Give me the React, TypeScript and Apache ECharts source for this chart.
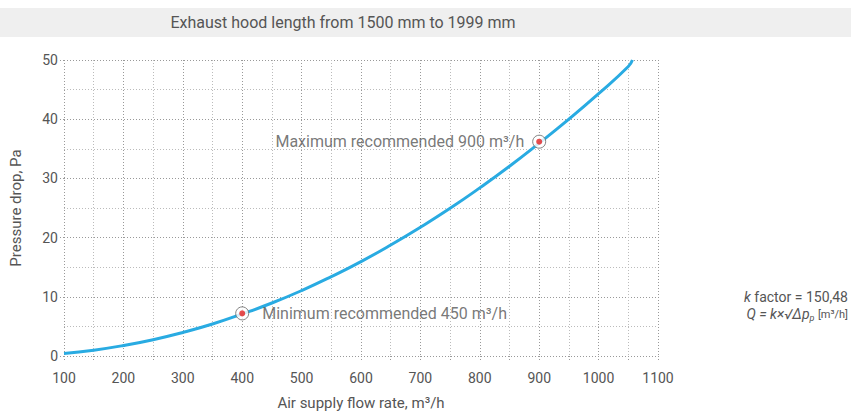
import React, { useEffect, useRef } from "react";
import * as echarts from "echarts";

const flowRates = [100, 150, 200, 250, 300, 350, 400, 450, 500, 550, 600, 650, 700, 750, 800, 850, 900, 950, 1000, 1050, 1057];
const pressureDrops = [0.44, 0.99, 1.77, 2.76, 3.98, 5.41, 7.1, 8.95, 11.05, 13.4, 15.95, 18.75, 21.75, 24.95, 28.4, 32.05, 35.95, 40.0, 44.3, 48.9, 50];
const markerFlows = [400, 900];
const markerDrops = [7.2, 36.2];
const markerLabels = ["Minimum recommended 450 m³/h", "Maximum recommended 900 m³/h"];
const titleText = "Exhaust hood length from 1500 mm to 1999 mm";
const xName = "Air supply flow rate, m³/h";
const yName = "Pressure drop, Pa";

const FONT = "Roboto, 'Noto Sans', sans-serif";
const TXT = "#555";

export default function App() {
  const ref = useRef<HTMLDivElement>(null);
  useEffect(() => {
    if (!ref.current) return;
    document.body.style.margin = "0";
    const chart = echarts.init(ref.current, null, { renderer: "svg" });
    const curve = flowRates.map((x, i) => [x, pressureDrops[i]]);
    const markers = markerFlows.map((x, i) => ({
      value: [x, markerDrops[i]],
      label: {
        show: true,
        formatter: markerLabels[i],
        position: i === 0 ? "right" : "left",
        distance: i === 0 ? 13 : 8,
        fontSize: 16,
        color: TXT,
        fontFamily: FONT,
      },
    }));
    const dotted = { type: [1, 2] as any, color: "#999", width: 1 };
    chart.setOption({
      animation: false,
      textStyle: { fontFamily: FONT },
      graphic: [
        {
          type: "rect",
          shape: { x: 0, y: 8, width: 851, height: 29 },
          style: { fill: "#efefef" },
          silent: true,
        },
        {
          type: "text",
          x: 343,
          y: 22,
          style: { text: titleText, fontSize: 16, fill: TXT, fontFamily: FONT, align: "center", verticalAlign: "middle" },
        },
        {
          type: "text",
          x: 848,
          y: 297,
          style: {
            text: "{i|k} factor = 150,48",
            align: "right",
            verticalAlign: "middle",
            fill: TXT,
            fontSize: 14,
            fontFamily: FONT,
            rich: { i: { fontStyle: "italic", fontSize: 14, fill: TXT, fontFamily: FONT } },
          },
        },
        {
          type: "text",
          x: 848,
          y: 314,
          style: {
            text: "{i|Q = k×√Δp}{s|p} {b|[m³/h]}",
            align: "right",
            verticalAlign: "middle",
            fill: TXT,
            fontSize: 14,
            fontFamily: FONT,
            rich: {
              i: { fontStyle: "italic", fontSize: 14, fill: TXT, fontFamily: FONT },
              s: { fontStyle: "italic", fontSize: 9, fill: TXT, fontFamily: FONT, padding: [8, 0, 0, 0] },
              b: { fontSize: 11, fill: TXT, fontFamily: FONT },
            },
          },
        },
      ],
      grid: { left: 62, top: 60, width: 596, height: 296, containLabel: false },
      xAxis: {
        type: "value",
        min: 100,
        max: 1100,
        interval: 100,
        name: xName,
        nameLocation: "middle",
        nameGap: 39,
        nameTextStyle: { fontSize: 15, color: TXT, fontFamily: FONT },
        axisLine: { show: false },
        axisTick: { show: true, length: 4, lineStyle: dotted },
        minorTick: { show: true, splitNumber: 2, length: 4, lineStyle: dotted },
        axisLabel: { fontSize: 14, color: TXT, margin: 15, fontFamily: FONT, formatter: (v: number) => String(v) },
        splitLine: { show: true, lineStyle: dotted },
        minorSplitLine: { show: true, lineStyle: { type: [1, 2] as any, color: "#bbb", width: 1 } },
      },
      yAxis: {
        type: "value",
        min: 0,
        max: 50,
        interval: 10,
        name: yName,
        nameLocation: "middle",
        nameGap: 41,
        nameTextStyle: { fontSize: 15, color: TXT, fontFamily: FONT },
        axisLine: { show: false },
        axisTick: { show: true, length: 5, lineStyle: dotted },
        axisLabel: { fontSize: 14, color: TXT, margin: 6, fontFamily: FONT },
        splitLine: { show: true, lineStyle: dotted },
        minorTick: { show: false, splitNumber: 2 },
        minorSplitLine: { show: true, lineStyle: { type: [1, 2] as any, color: "#bbb", width: 1 } },
      },
      series: [
        {
          type: "line",
          data: curve,
          smooth: true,
          showSymbol: false,
          lineStyle: { color: "#29abe2", width: 3 },
          z: 2,
        },
        {
          type: "scatter",
          data: markers,
          symbol: "circle",
          symbolSize: 13,
          itemStyle: { color: "#fff", borderColor: "#666", borderWidth: 1 },
          z: 3,
        },
        {
          type: "scatter",
          data: markerFlows.map((x, i) => [x, markerDrops[i]]),
          symbol: "circle",
          symbolSize: 6,
          itemStyle: { color: "#e32020" },
          z: 4,
          silent: true,
        },
      ],
    });
    return () => chart.dispose();
  }, []);
  return <div ref={ref} style={{ width: 851, height: 415 }} />;
}
